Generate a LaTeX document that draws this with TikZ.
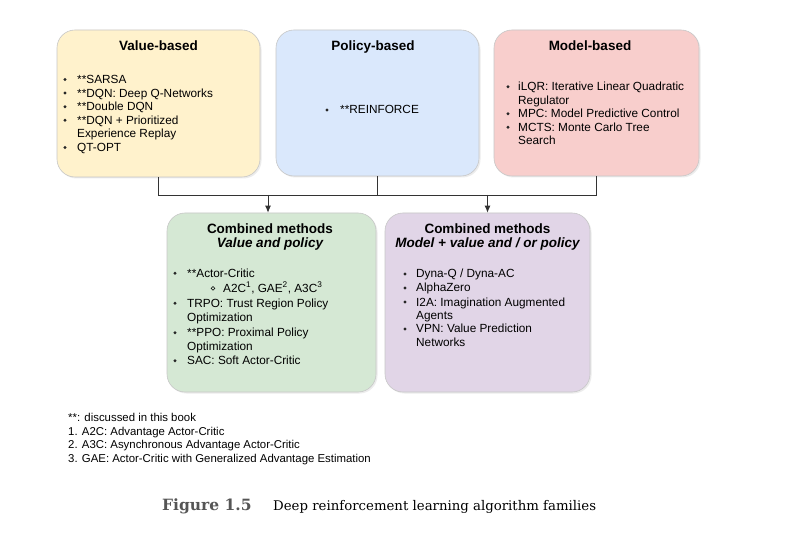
\documentclass[tikz,border=0pt]{standalone}
\usepackage{fontspec}
\setmainfont{Liberation Sans}
\newfontfamily\capfont{DejaVu Serif}
\usetikzlibrary{arrows.meta,shadows}
\definecolor{cyel}{HTML}{FFF2CC}
\definecolor{cblu}{HTML}{DAE8FC}
\definecolor{cred}{HTML}{F8CECC}
\definecolor{cgrn}{HTML}{D5E8D4}
\definecolor{cpur}{HTML}{E1D5E7}
\definecolor{cline}{HTML}{333333}
\definecolor{capgray}{HTML}{555555}
\begin{document}
\begin{tikzpicture}[x=1pt,y=-1pt,
  box/.style={draw=black!22, line width=0.6pt, rounded corners=18pt, inner sep=0pt,
    drop shadow={shadow xshift=1.5pt, shadow yshift=-1.5pt, opacity=0.15}},
  ttl/.style={anchor=base, inner sep=0pt, font=\bfseries\fontsize{13.5}{16}\selectfont},
  ttli/.style={anchor=base, inner sep=0pt, font=\bfseries\itshape\fontsize{13.5}{16}\selectfont},
  itm/.style={anchor=base west, inner sep=0pt, font=\fontsize{11.8}{14}\selectfont},
  fnt/.style={anchor=base west, inner sep=0pt, font=\fontsize{11.4}{13}\selectfont},
  conn/.style={draw=cline, line width=0.9pt},
  arr/.style={conn, -{Latex[length=7pt,width=6pt]}},
  bul/.style={circle, fill=black!85, inner sep=0pt, minimum size=3.2pt},
  sbul/.style={circle, draw=black, line width=0.5pt, inner sep=0pt, minimum size=3.8pt}
]
\useasboundingbox (0,0) rectangle (787,553);
\fill[white] (0,0) rectangle (787,553);

% boxes
\node[box, fill=cyel, minimum width=203pt, minimum height=147pt] (vb) at (158.5,103.5) {};
\node[box, fill=cblu, minimum width=203pt, minimum height=146pt] (pb) at (377.5,103) {};
\node[box, fill=cred, minimum width=205pt, minimum height=146pt] (mb) at (596.5,103) {};
\node[box, fill=cgrn, minimum width=209pt, minimum height=179pt] (c1) at (271.5,302.5) {};
\node[box, fill=cpur, minimum width=205pt, minimum height=179pt] (c2) at (487.5,302.5) {};

% connectors
\coordinate (hl) at (158.5,195);
\coordinate (hr) at (596.5,195);
\coordinate (a1) at (268,195);
\coordinate (a2) at (487.5,195);
\coordinate (pm) at (377.5,195);
\draw[conn] (vb.south) -- (hl) -- (hr) -- (mb.south);
\draw[conn] (pb.south) -- (pm);
\draw[arr] (a1) -- (a1 |- c1.north);
\draw[arr] (a2) -- (a2 |- c2.north);

% Value-based
\node[ttl] (vbt) at (158.5,51) {Value-based};
\node[bul] (vb1) at (65,79.5) {};
\node[itm] (vt1) at (77,83.5) {**SARSA};
\node[bul] (vb2) at (65,93.1) {};
\node[itm] (vt2) at (77,97.1) {**DQN: Deep Q-Networks};
\node[bul] (vb3) at (65,106.7) {};
\node[itm] (vt3) at (77,110.7) {**Double DQN};
\node[bul] (vb4) at (65,120.3) {};
\node[itm] (vt4) at (77,124.3) {**DQN + Prioritized};
\node[itm] (vt5) at (77,137.9) {Experience Replay};
\node[bul] (vb6) at (65,147.5) {};
\node[itm] (vt6) at (77,151.5) {QT-OPT};

% Policy-based
\node[ttl] (pbt) at (373,51) {Policy-based};
\node[bul] (pb1) at (327,110) {};
\node[itm] (pt1) at (340,114) {**REINFORCE};

% Model-based
\node[ttl] (mbt) at (590,51) {Model-based};
\node[bul] (mb1) at (508,86.7) {};
\node[itm] (mt1) at (518,90.7) {iLQR: Iterative Linear Quadratic};
\node[itm] (mt2) at (518,104.2) {Regulator};
\node[bul] (mb3) at (508,113.7) {};
\node[itm] (mt3) at (518,117.7) {MPC: Model Predictive Control};
\node[bul] (mb4) at (508,127.2) {};
\node[itm] (mt4) at (518,131.2) {MCTS: Monte Carlo Tree};
\node[itm] (mt5) at (518,144.7) {Search};

% Combined 1
\node[ttl] (c1t) at (270,234) {Combined methods};
\node[ttli] (c1s) at (270,248) {Value and policy};
\node[bul] (cb1) at (175,273.3) {};
\node[itm] (ct1) at (187,277.3) {**Actor-Critic};
\node[sbul] (cb2) at (213,288.3) {};
\node[itm] (ct2) at (223,292.3) {A2C\textsuperscript{1}, GAE\textsuperscript{2}, A3C\textsuperscript{3}};
\node[bul] (cb3) at (175,303.3) {};
\node[itm] (ct3) at (187,307.3) {TRPO: Trust Region Policy};
\node[itm] (ct4) at (187,321.3) {Optimization};
\node[bul] (cb5) at (175,332.7) {};
\node[itm] (ct5) at (187,336.7) {**PPO: Proximal Policy};
\node[itm] (ct6) at (187,350.7) {Optimization};
\node[bul] (cb7) at (175,360.7) {};
\node[itm] (ct7) at (187,364.7) {SAC: Soft Actor-Critic};

% Combined 2
\node[ttl] (c2t) at (487.5,234) {Combined methods};
\node[ttli] (c2s) at (487.5,248) {Model + value and / or policy};
\node[bul] (db1) at (405,274) {};
\node[itm] (dt1) at (416,278) {Dyna-Q / Dyna-AC};
\node[bul] (db2) at (405,288) {};
\node[itm] (dt2) at (416,292) {AlphaZero};
\node[bul] (db3) at (405,302) {};
\node[itm] (dt3) at (416,306) {I2A: Imagination Augmented};
\node[itm] (dt4) at (416,319.5) {Agents};
\node[bul] (db5) at (405,329) {};
\node[itm] (dt5) at (416,333) {VPN: Value Prediction};
\node[itm] (dt6) at (416,346.5) {Networks};

% footnotes
\node[fnt] (f1) at (68,421) {**: discussed in this book};
\node[fnt] (f2) at (68,435) {1. A2C: Advantage Actor-Critic};
\node[fnt] (f3) at (68,448.5) {2. A3C: Asynchronous Advantage Actor-Critic};
\node[fnt] (f4) at (68,462) {3. GAE: Actor-Critic with Generalized Advantage Estimation};

% caption
\node[anchor=base west, inner sep=0pt, font=\capfont\bfseries\fontsize{15.5}{18}\selectfont, text=capgray] (cap1) at (162,510) {Figure 1.5};
\node[anchor=base west, inner sep=0pt, font=\capfont\fontsize{13.3}{16}\selectfont] (cap2) at (273,510) {Deep reinforcement learning algorithm families};
\end{tikzpicture}
\end{document}
